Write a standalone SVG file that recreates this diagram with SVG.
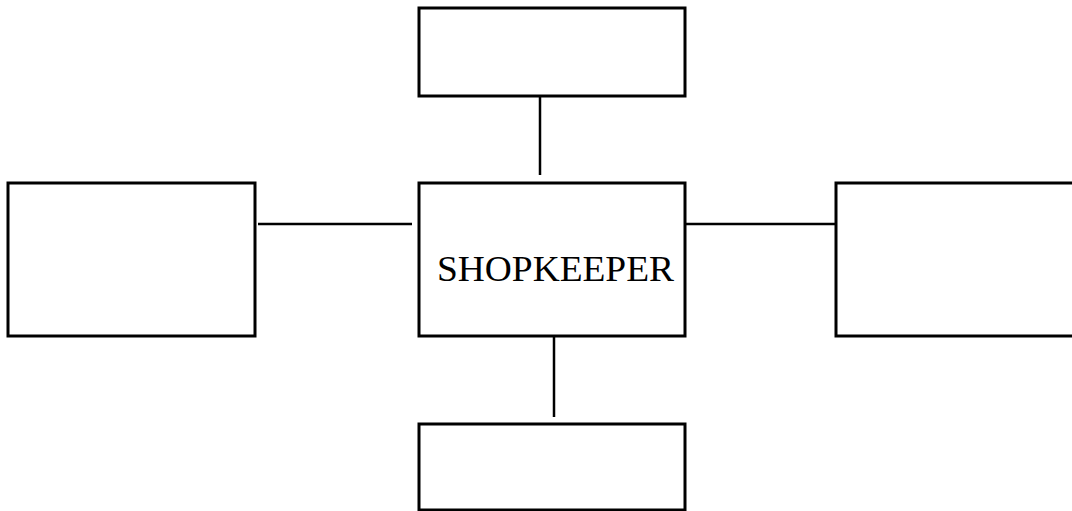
<svg xmlns="http://www.w3.org/2000/svg" width="1072" height="511" viewBox="0 0 1072 511">
<style>
.box{fill:#fff;stroke:#000;stroke-width:3}
.conn{stroke:#000;stroke-width:2.5;fill:none}
.lbl{font-family:"Liberation Serif","Times New Roman",serif;font-size:35px;fill:#000}
</style>
<rect width="1072" height="511" fill="#fff"/>
<g id="connectors">
<line class="conn" x1="540" y1="95" x2="540" y2="175"/>
<line class="conn" x1="258" y1="224" x2="412" y2="224"/>
<line class="conn" x1="685" y1="224" x2="839" y2="224"/>
<line class="conn" x1="554" y1="336" x2="554" y2="417"/>
</g>
<g id="node-top"><rect class="box" x="419" y="8" width="266" height="88"/></g>
<g id="node-left"><rect class="box" x="8" y="183" width="247" height="153"/></g>
<g id="node-center"><rect class="box" x="419" y="183" width="266" height="153"/>
<text class="lbl" x="555.5" y="281" text-anchor="middle" textLength="237" lengthAdjust="spacingAndGlyphs">SHOPKEEPER</text></g>
<g id="node-right"><rect class="box" x="836" y="183" width="250" height="153"/></g>
<g id="node-bottom"><rect class="box" x="419" y="424" width="266" height="86"/></g>
</svg>
